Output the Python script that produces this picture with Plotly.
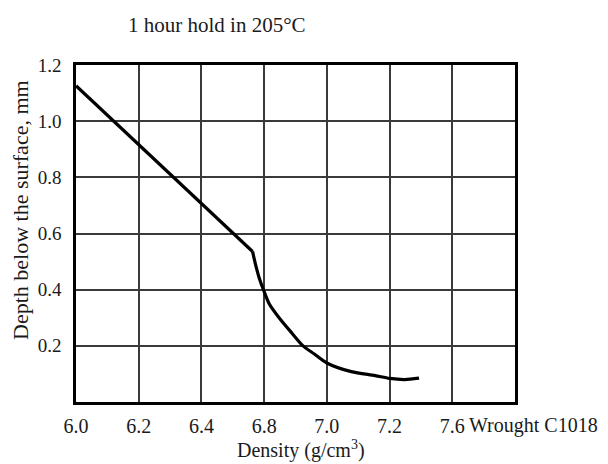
import numpy as np
import plotly.graph_objects as go

# Tick labels of the (non-uniform) density axis
tick_density = [6.0, 6.2, 6.4, 6.8, 7.0, 7.2, 7.6]
tick_labels = ["6.0", "6.2", "6.4", "6.8", "7.0", "7.2", "7.6"]
extra_label = "Wrought C1018"
y_ticks = [0.2, 0.4, 0.6, 0.8, 1.0, 1.2]

# Curve (straight part up to the kink, then a curve)
density = [6.0, 6.726, 6.748, 6.769, 6.798, 6.816, 6.847, 6.888, 6.924,
           6.96, 7.0, 7.078, 7.154, 7.2, 7.297, 7.388]
depth = [1.126, 0.536, 0.483, 0.441, 0.396, 0.350, 0.301, 0.246, 0.200,
         0.171, 0.139, 0.108, 0.094, 0.084, 0.080, 0.085]
kink = 1  # index of the kink point

tick_index = list(range(len(tick_density)))
x_pos = np.interp(density, tick_density, tick_index)

FONT = "Liberation Serif, Times New Roman, serif"
TXT = "#1a1a1a"

# page body has an 8px margin, so the figure is 600x456 placed at (8, 8)
W, H = 600, 456
L, R, T, B = 68, 93, 57, 62
PW, PH = W - L - R, H - T - B


def px(xp):
    return (xp - 8 - L) / PW


def py(yp):
    return (H - B - (yp - 8)) / PH


fig = go.Figure()
fig.add_trace(go.Scatter(x=x_pos[:kink + 1], y=depth[:kink + 1], mode="lines",
                         line=dict(color="black", width=3.2),
                         hoverinfo="skip", showlegend=False))
fig.add_trace(go.Scatter(x=x_pos[kink:], y=depth[kink:], mode="lines",
                         line=dict(color="black", width=3.2, shape="spline", smoothing=0.8),
                         hoverinfo="skip", showlegend=False))

fig.update_layout(
    width=W, height=H,
    margin=dict(l=L, r=R, t=T, b=B),
    paper_bgcolor="white", plot_bgcolor="white",
    font=dict(family=FONT, size=18, color=TXT),
    showlegend=False,
)
fig.update_xaxes(
    range=[0, 7], tickvals=tick_index, ticktext=tick_labels,
    showgrid=True, gridcolor="#3a3a3a", gridwidth=1.5,
    showline=True, linecolor="black", linewidth=2.5, mirror=True,
    zeroline=False, ticks="", ticklabelstandoff=4,
    tickfont=dict(family=FONT, size=20, color=TXT),
)
fig.update_yaxes(
    range=[0, 1.2], tickvals=y_ticks, ticktext=[f"{v:.1f}" for v in y_ticks],
    showgrid=True, gridcolor="#3a3a3a", gridwidth=1.5,
    showline=True, linecolor="black", linewidth=2.5, mirror=True,
    zeroline=False, ticks="", ticklabelstandoff=8,
    tickfont=dict(family=FONT, size=19, color=TXT),
)

fig.add_annotation(text="1 hour hold in 205\u00b0C", xref="paper", yref="paper",
                   x=px(217), y=py(25), xanchor="center", yanchor="middle",
                   showarrow=False, font=dict(family=FONT, size=21, color=TXT))
fig.add_annotation(text="Depth below the surface, mm", xref="paper", yref="paper",
                   x=px(20), y=py(210), textangle=-90,
                   xanchor="center", yanchor="middle",
                   showarrow=False, font=dict(family=FONT, size=22, color=TXT))
fig.add_annotation(text="Density (g/cm<sup>3</sup>)", xref="paper", yref="paper",
                   x=px(301), y=py(449), xanchor="center", yanchor="middle",
                   showarrow=False, font=dict(family=FONT, size=20, color=TXT))
fig.add_annotation(text=extra_label, xref="paper", yref="paper",
                   x=px(467), y=py(425), xanchor="left", yanchor="middle",
                   showarrow=False, font=dict(family=FONT, size=20, color=TXT))

fig.write_html("out.html")
